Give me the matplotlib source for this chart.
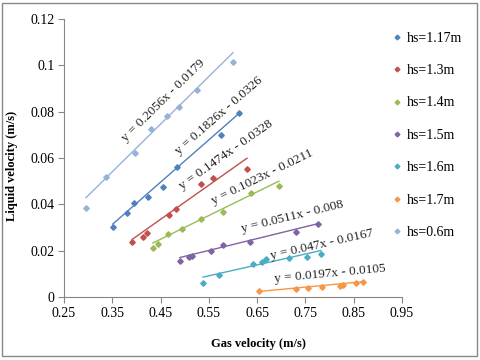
import numpy as np
import matplotlib
matplotlib.use('Agg')
import matplotlib.pyplot as plt
from matplotlib.patches import Rectangle

plt.rcParams['font.family'] = ['Liberation Serif', 'DejaVu Serif']

# series data
labels = ['hs=1.17m', 'hs=1.3m', 'hs=1.4m', 'hs=1.5m', 'hs=1.6m', 'hs=1.7m', 'hs=0.6m']
colors = ['#4F81BD', '#C0504D', '#9BBB59', '#8064A2', '#4BACC6', '#F79646', '#95B3D7']

x117 = [0.351, 0.380, 0.395, 0.424, 0.455, 0.484, 0.575, 0.612]
y117 = [0.0302, 0.0363, 0.0406, 0.0432, 0.0475, 0.0561, 0.0699, 0.0794]
x13 = [0.391, 0.414, 0.422, 0.467, 0.482, 0.534, 0.558, 0.629]
y13 = [0.0237, 0.0259, 0.0276, 0.0354, 0.0380, 0.0488, 0.0514, 0.0552]
x14 = [0.434, 0.445, 0.465, 0.494, 0.534, 0.579, 0.637, 0.695]
y14 = [0.0211, 0.0229, 0.0272, 0.0293, 0.0337, 0.0367, 0.0449, 0.0479]
x15 = [0.490, 0.509, 0.515, 0.554, 0.579, 0.635, 0.730, 0.776]
y15 = [0.0155, 0.0173, 0.0177, 0.0199, 0.0224, 0.0237, 0.0281, 0.0315]
x16 = [0.538, 0.571, 0.641, 0.660, 0.668, 0.716, 0.753, 0.782]
y16 = [0.0060, 0.0095, 0.0142, 0.0151, 0.0164, 0.0168, 0.0173, 0.0186]
x17 = [0.654, 0.730, 0.755, 0.784, 0.821, 0.828, 0.855, 0.869]
y17 = [0.0026, 0.0035, 0.0039, 0.0043, 0.0047, 0.0052, 0.0060, 0.0065]
x06 = [0.2955, 0.337, 0.397, 0.430, 0.463, 0.488, 0.525, 0.600]
y06 = [0.0384, 0.0518, 0.0621, 0.0725, 0.0781, 0.0820, 0.0893, 0.1014]

# linear trendlines (slope, intercept) and label positions
slopes = [0.1826, 0.1474, 0.1023, 0.0511, 0.047, 0.0197, 0.2056]
intercepts = [-0.0326, -0.0328, -0.0211, -0.008, -0.0167, -0.0105, -0.0179]
eq_text = ['y = 0.1826x - 0.0326', 'y = 0.1474x - 0.0328', 'y = 0.1023x - 0.0211',
           'y = 0.0511x - 0.008', 'y = 0.047x - 0.0167', 'y = 0.0197x - 0.0105',
           'y = 0.2056x - 0.0179']
eq_x = [0.571, 0.585, 0.660, 0.722, 0.784, 0.801, 0.455]
eq_y = [0.0783, 0.0615, 0.0516, 0.0345, 0.0228, 0.0099, 0.0846]

xs = [x117, x13, x14, x15, x16, x17, x06]
ys = [y117, y13, y14, y15, y16, y17, y06]

fig = plt.figure(figsize=(4.8, 3.6), dpi=100)
ax = fig.add_axes([64 / 480, 1 - 297 / 360, 338 / 480, 278 / 360])

for x, y, c, lab, m, b in zip(xs, ys, colors, labels, slopes, intercepts):
    ax.plot(x, y, 'D', color=c, markersize=2.8, label=lab, linestyle='none')
    xl = np.array([min(x), max(x)])
    ax.plot(xl, m * xl + b, color=c, lw=1)

ax.set_xlim(0.25, 0.95)
ax.set_ylim(0, 0.12)
ax.set_xticks(np.arange(0.25, 0.96, 0.1))
ax.set_xticklabels(['0.25', '0.35', '0.45', '0.55', '0.65', '0.75', '0.85', '0.95'])
ax.set_yticks(np.arange(0, 0.121, 0.02))
ax.set_yticklabels(['0', '0.02', '0.04', '0.06', '0.08', '0.1', '0.12'])

# rotate the equations along their lines
sx = 338 / 0.7
sy = 278 / 0.12
for t, tx, ty, m in zip(eq_text, eq_x, eq_y, slopes):
    ang = np.degrees(np.arctan(m * sy / sx))
    ax.text(tx, ty, t, rotation=ang, ha='center', va='center', fontsize=9.5,
            rotation_mode='anchor', color='#222222')

for s in ['top', 'right']:
    ax.spines[s].set_visible(False)
for s in ['left', 'bottom']:
    ax.spines[s].set_color('#868686')
ax.tick_params(direction='out', length=4, color='#868686', labelsize=10, pad=3)

ax.set_xlabel('Gas velocity (m/s)', fontsize=9, fontweight='bold')
ax.set_ylabel('Liquid velocity (m/s)', fontsize=9, fontweight='bold')
ax.xaxis.set_label_coords(0.574, -0.147)
ax.yaxis.set_label_coords(-0.136, 0.471)

leg = ax.legend(loc='upper left', bbox_to_anchor=(387 / 480, 1 - 26 / 360),
                bbox_transform=fig.transFigure, frameon=False, fontsize=10,
                handlelength=0.6, handletextpad=0.4, labelspacing=1.4,
                borderaxespad=0, markerscale=0.85)

fig.patches.append(Rectangle((2 / 480, 4 / 360), 475 / 480, 353 / 360,
                             transform=fig.transFigure, fill=False,
                             edgecolor='#868686', lw=1))

fig.savefig('out.png', dpi=100)
